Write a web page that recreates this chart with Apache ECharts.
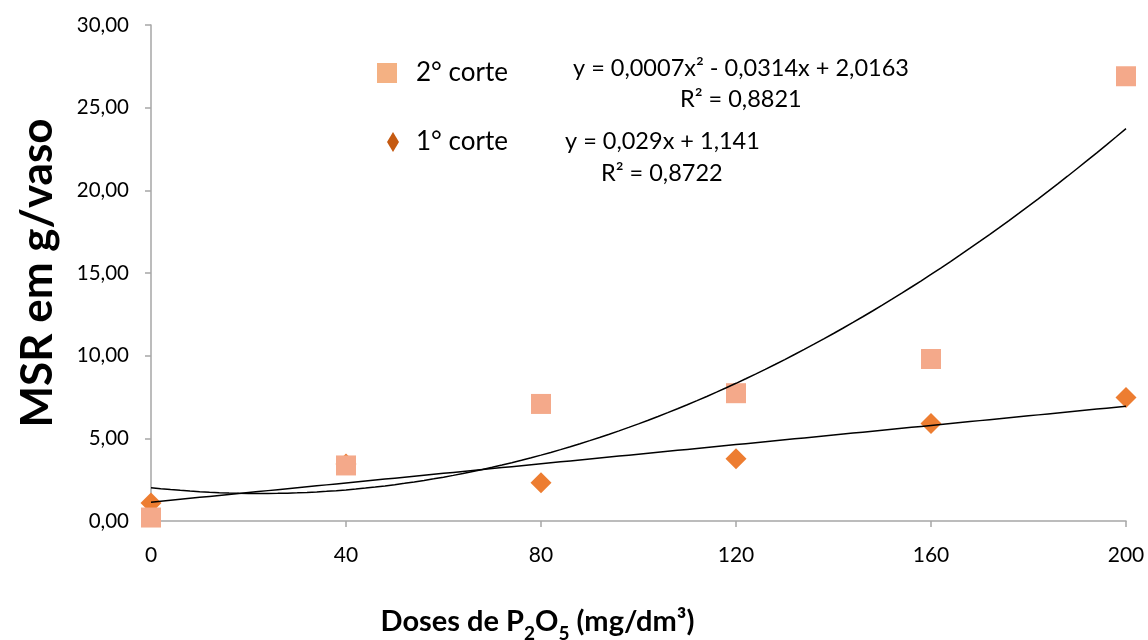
<!DOCTYPE html>
<html>
<head>
<meta charset="utf-8">
<script src="https://cdn.jsdelivr.net/npm/echarts@6/dist/echarts.min.js"></script>
<style>
  html, body { margin: 0; padding: 0; background: #fff; }
  #chart { width: 1148px; height: 640px; }
</style>
</head>
<body>
<div id="chart"></div>
<script>
// Doses de P2O5 (mg/dm³)
const doses = [0, 40, 80, 120, 160, 200];
// MSR (g/vaso) per cut
const corte2 = [0.21, 3.36, 7.08, 7.73, 9.80, 26.90];
const corte1 = [1.09, 3.45, 2.32, 3.77, 5.90, 7.47];
// Fitted trendline coefficients (constant, x, x²)
const quadCoef = [2.0163, -0.0314, 0.0007];
const linCoef = [1.141, 0.029];
const quadR2 = '0,8821';
const linR2 = '0,8722';

const FONT = 'Lato, "Open Sans", sans-serif';

function poly(coef, x) {
  return coef.reduce((s, c, i) => s + c * Math.pow(x, i), 0);
}
function curve(coef) {
  const pts = [];
  for (let x = doses[0]; x <= doses[doses.length - 1]; x += 2) pts.push([x, poly(coef, x)]);
  return pts;
}
const fmt = v => String(Math.abs(v)).replace('.', ',');

const chart = echarts.init(document.getElementById('chart'));
chart.setOption({
  animation: false,
  backgroundColor: '#fff',
  grid: { left: 151, right: 22, top: 25, bottom: 119, containLabel: false, outerBoundsMode: 'none' },
  xAxis: {
    type: 'value', min: 0, max: 200, interval: 40,
    axisLine: { show: true, lineStyle: { color: '#A6A6A6', width: 1.5 } },
    axisTick: { show: true, length: 6, lineStyle: { color: '#A6A6A6', width: 1.5 } },
    splitLine: { show: false },
    axisLabel: { margin: 24, color: '#000', fontFamily: FONT, fontSize: 21 },
    name: '{a|Doses de P}{s|2}{a|O}{s|5}{a| (mg/dm³)}',
    nameLocation: 'middle', nameGap: 86,
    nameTextStyle: {
      padding: [0, 202, 0, 0],
      rich: {
        a: { fontFamily: FONT, fontWeight: 'bold', fontSize: 29, color: '#000', lineHeight: 36, verticalAlign: 'top' },
        s: { fontFamily: FONT, fontWeight: 'bold', fontSize: 19, color: '#000', lineHeight: 19, verticalAlign: 'bottom' }
      }
    }
  },
  yAxis: {
    type: 'value', min: 0, max: 30, interval: 5,
    axisLine: { show: true, lineStyle: { color: '#A6A6A6', width: 1.5 } },
    axisTick: { show: true, length: 6, lineStyle: { color: '#A6A6A6', width: 1.5 } },
    splitLine: { show: false },
    axisLabel: {
      margin: 22, color: '#000', fontFamily: FONT, fontSize: 20.5,
      formatter: v => v.toFixed(2).replace('.', ',')
    },
    name: 'MSR em g/vaso', nameLocation: 'middle', nameGap: 91,
    nameTextStyle: { fontFamily: FONT, fontWeight: 'bold', fontSize: 44, color: '#000' }
  },
  legend: [
    {
      left: 377, top: 60, padding: 0, orient: 'vertical',
      data: [{ name: '2° corte', icon: 'rect', itemStyle: { color: '#F4B183' } }],
      itemWidth: 20, itemHeight: 20,
      textStyle: { fontFamily: FONT, fontSize: 26, color: '#000', padding: [0, 0, 0, 14] }
    },
    {
      left: 387, top: 129, padding: 0, orient: 'vertical',
      data: [{ name: '1° corte', icon: 'diamond', itemStyle: { color: '#C55A11' } }],
      itemWidth: 12, itemHeight: 20,
      textStyle: { fontFamily: FONT, fontSize: 26, color: '#000', padding: [0, 0, 0, 12] }
    }
  ],
  graphic: [
    {
      type: 'text', left: 573, top: 56,
      style: {
        text: 'y = ' + fmt(quadCoef[2]) + 'x² - ' + fmt(quadCoef[1]) + 'x + ' + fmt(quadCoef[0]),
        fontFamily: FONT, fontSize: 23.5, fill: '#000'
      }
    },
    {
      type: 'text', left: 680, top: 87,
      style: { text: 'R² = ' + quadR2, fontFamily: FONT, fontSize: 23.5, fill: '#000' }
    },
    {
      type: 'text', left: 565, top: 129,
      style: {
        text: 'y = ' + fmt(linCoef[1]) + 'x + ' + fmt(linCoef[0]),
        fontFamily: FONT, fontSize: 23.5, fill: '#000'
      }
    },
    {
      type: 'text', left: 601, top: 161,
      style: { text: 'R² = ' + linR2, fontFamily: FONT, fontSize: 23.5, fill: '#000' }
    }
  ],
  series: [
    {
      name: '1° corte', type: 'scatter', symbol: 'diamond', symbolSize: 21,
      itemStyle: { color: '#ED7D31', opacity: 1 },
      data: doses.map((d, i) => [d, corte1[i]]), z: 2
    },
    {
      name: '2° corte', type: 'scatter', symbol: 'rect', symbolSize: 20,
      itemStyle: { color: '#F4A98A', opacity: 1 },
      data: doses.map((d, i) => [d, corte2[i]]), z: 3
    },
    {
      name: 'poly2', type: 'line', showSymbol: false, silent: true,
      lineStyle: { color: '#000', width: 1.5 }, data: curve(quadCoef), z: 4
    },
    {
      name: 'linear', type: 'line', showSymbol: false, silent: true,
      lineStyle: { color: '#000', width: 1.5 }, data: curve(linCoef), z: 4
    }
  ]
});
</script>
</body>
</html>
